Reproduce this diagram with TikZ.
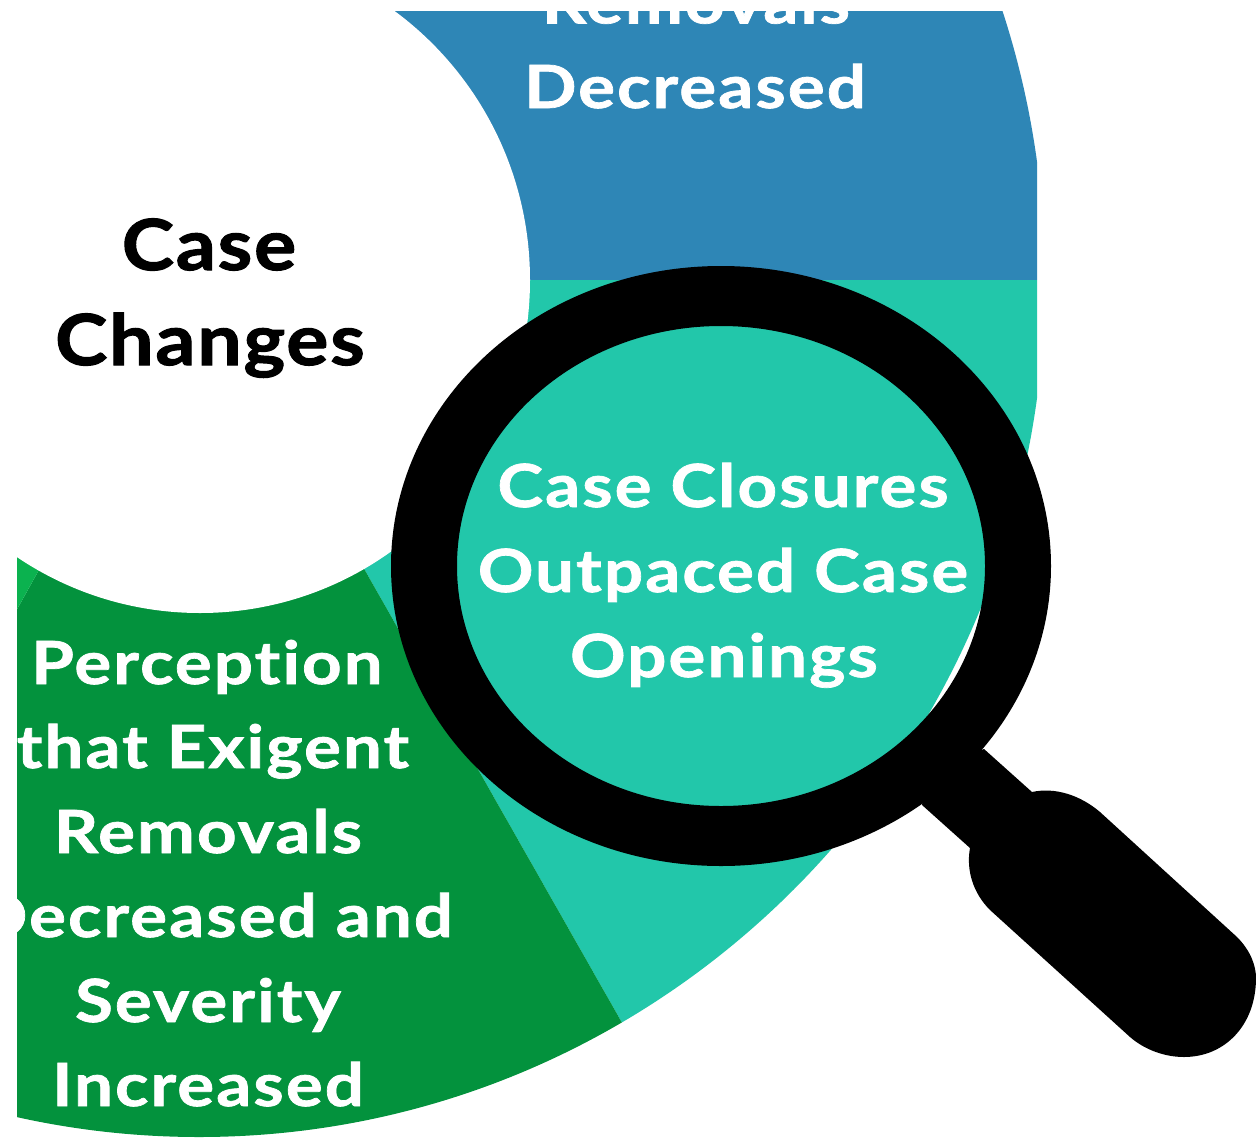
\documentclass[tikz,border=0pt]{standalone}
\usepackage{fontspec}
\setmainfont{Lato}[BoldFont={Lato Bold},Ligatures=NoCommon]
\newfontface\whiteface{Lato Bold}[FakeStretch=1.16,LetterSpace=3.5,FakeBold=1.2,Ligatures=NoCommon]
\newfontface\blackface{Lato Bold}[FakeStretch=1.12,LetterSpace=2.5,FakeBold=1.5,Ligatures=NoCommon]
\definecolor{pieblue}{HTML}{2E86B6}
\definecolor{pieteal}{HTML}{22C7AA}
\definecolor{piegreen}{HTML}{03923D}
\definecolor{pielight}{HTML}{0BB24F}
\tikzset{
  whitetext/.style={text=white,anchor=base,inner sep=0pt,font=\whiteface\fontsize{59.5}{59.5}\selectfont},
  blacktext/.style={text=black,anchor=base,inner sep=0pt,font=\blackface\fontsize{70.5}{70.5}\selectfont}
}
\begin{document}
\begin{tikzpicture}[x=1pt,y=-1pt]
\useasboundingbox (0,0) rectangle (1256,1138);
\fill[white] (0,0) rectangle (1256,1138);
\begin{scope}
  \clip (17,11) rectangle (1037,1138);
  \begin{scope}
    \clip (199,280) ellipse [x radius=846, y radius=857];
    \fill[pieblue] (17,0) rectangle (1100,280);
    \fill[pieteal] (200,280) -- (1100,280) -- (1100,1200) -- (700,1160) -- cycle;
    \fill[piegreen] (200,280) -- (700,1160) -- (0,1200) -- (0,640) -- cycle;
    \fill[pielight] (200,280) -- (0,640) -- (0,280) -- cycle;
  \end{scope}
  \fill[white] (200,280) ellipse [x radius=330, y radius=333];
  \node[blacktext] (case) at (209,270) {Case};
  \node[blacktext] (changes) at (210,365) {Changes};
  \node[whitetext] (removals) at (696,23.4) {Removals};
  \node[whitetext] (decreased) at (695,108) {Decreased};
  \node[whitetext] (p1) at (207,684) {Perception};
  \node[whitetext] (p2) at (213,768) {that Exigent};
  \node[whitetext] (p3) at (208,853) {Removals};
  \node[whitetext] (p4) at (214,937) {Decreased and};
  \node[whitetext] (p5) at (208,1022) {Severity};
  \node[whitetext] (p6) at (208,1106) {Increased};
\end{scope}
% magnifying glass
\fill[black,even odd rule] (721,566) ellipse [x radius=330, y radius=300]
  (721,566) ellipse [x radius=264, y radius=240];
\fill[black] (984,749) -- (1032,792)
  .. controls (1055,787) and (1080,795) .. (1100,812)
  -- (1237,937)
  .. controls (1250,950) and (1256,965) .. (1256,978)
  .. controls (1256,1025) and (1225,1057) .. (1184,1057)
  .. controls (1165,1057) and (1145,1050) .. (1130,1037)
  -- (990,910)
  .. controls (973,893) and (966,870) .. (970,848)
  -- (922,805) -- (930,770) -- cycle;
\node[whitetext] (c1) at (723,507) {Case Closures};
\node[whitetext] (c2) at (723,592) {Outpaced Case};
\node[whitetext] (c3) at (724,677) {Openings};
\end{tikzpicture}
\end{document}
